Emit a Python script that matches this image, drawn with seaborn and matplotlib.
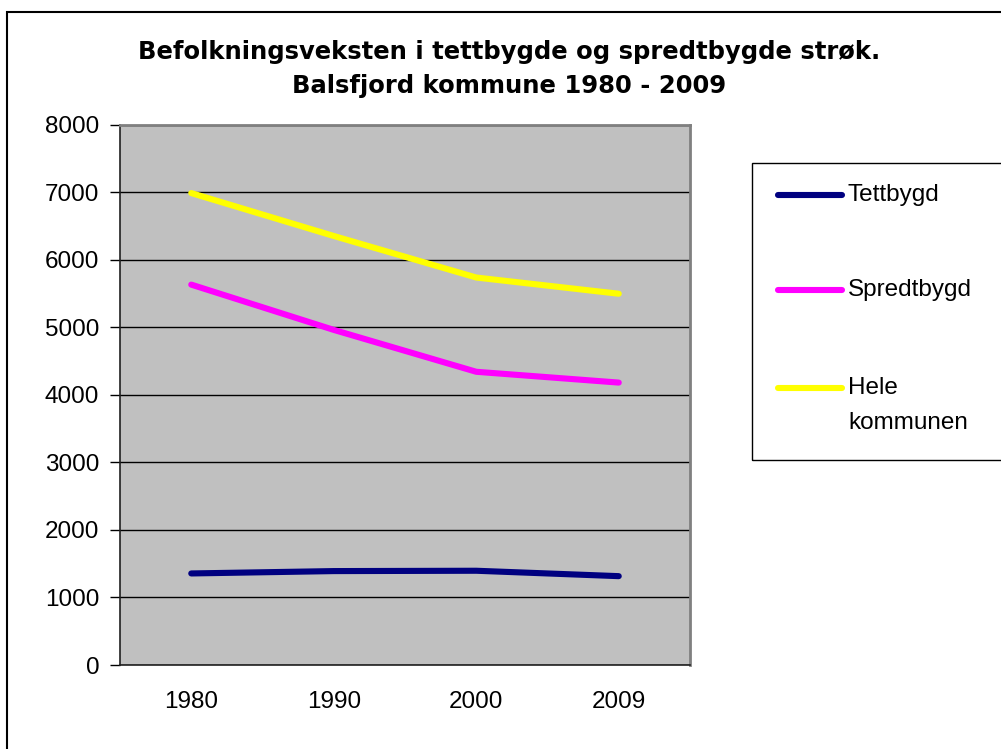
import matplotlib
matplotlib.use("Agg")
import matplotlib.pyplot as plt
from matplotlib.patches import Rectangle
from matplotlib.lines import Line2D
import seaborn as sns
import pandas as pd

years = ["1980", "1990", "2000", "2009"]
tettbygd = [1355, 1390, 1395, 1315]
spredtbygd = [5630, 4960, 4340, 4180]
hele = [6985, 6350, 5735, 5495]
series_names = ["Tettbygd", "Spredtbygd", "Hele\nkommunen"]
colors = ["#000080", "#FF00FF", "#FFFF00"]
title_lines = ["Befolkningsveksten i tettbygde og spredtbygde strøk.",
               "Balsfjord kommune 1980 - 2009"]

sns.set_theme(style="white")
plt.rcParams['font.family'] = ['Liberation Sans', 'DejaVu Sans']
plt.rcParams['text.color'] = 'black'
plt.rcParams['xtick.color'] = 'black'
plt.rcParams['ytick.color'] = 'black'

rows = []
for name, vals in zip(series_names, [tettbygd, spredtbygd, hele]):
    for i, (y, v) in enumerate(zip(years, vals)):
        rows.append({"idx": i, "year": y, "value": v, "series": name})
df = pd.DataFrame(rows)

W, H = 1001, 749
fig = plt.figure(figsize=(W / 100, H / 100), dpi=100)
fig.patch.set_facecolor("white")
ax = fig.add_axes([120 / W, 1 - 665 / H, (690 - 120) / W, (665 - 124.5) / H])
ax.set_facecolor("#C0C0C0")

LW = 4.4
sns.lineplot(data=df, x="idx", y="value", hue="series", palette=colors,
             hue_order=series_names, ax=ax, linewidth=LW, legend=False,
             sort=False)
for ln in ax.lines:
    ln.set_solid_capstyle("round")
    ln.set_solid_joinstyle("round")

FS = 17.5
ax.set_xlim(-0.5, 3.5)
ax.set_ylim(0, 8000)
ax.set_yticks(range(0, 8001, 1000))
ax.set_xticks(range(len(years)))
ax.set_xticklabels(years)
ax.set_xticks([-0.5, 0.5, 1.5, 2.5, 3.5], minor=True)
ax.tick_params(axis="x", which="major", length=0, pad=19, labelsize=FS, labelcolor="black")
ax.tick_params(axis="x", which="minor", length=7, width=1, color="black", direction="out")
ax.tick_params(axis="y", which="major", length=7, width=1, color="black", direction="out",
               labelsize=FS, pad=8, left=True, labelcolor="black")
ax.set_xlabel("")
ax.set_ylabel("")
ax.yaxis.grid(True, color="black", linewidth=1)
ax.set_axisbelow(True)
for s in ["left", "bottom"]:
    ax.spines[s].set_color("#202020")
    ax.spines[s].set_linewidth(1.2)
for s in ["top", "right"]:
    ax.spines[s].set_color("#808080")
    ax.spines[s].set_linewidth(2)

# titles
for txt, yy in zip(title_lines, [52, 86]):
    fig.text(509 / W, 1 - yy / H, txt, ha="center", va="center",
             fontsize=17.5, fontweight="bold", family=["DejaVu Sans"], color="black")

# outer frame
fig.add_artist(Rectangle((7 / W, -0.1), 1.2, 1 - 12 / H + 0.1, transform=fig.transFigure,
                         fill=False, edgecolor="black", linewidth=1.5))

# legend box
fig.add_artist(Rectangle((752 / W, 1 - 460 / H), 0.3, (460 - 163) / H,
                         transform=fig.transFigure, fill=False,
                         edgecolor="black", linewidth=1))
ys = [195, 290, 388]
for name, c, yy in zip(series_names, colors, ys):
    fig.add_artist(Line2D([778 / W, 842 / W], [1 - yy / H, 1 - yy / H],
                          transform=fig.transFigure, color=c, linewidth=LW,
                          solid_capstyle="round"))
    fig.text(848 / W, 1 - yy / H, name.split("\n")[0], ha="left", va="center",
             fontsize=FS)
fig.text(848 / W, 1 - 423 / H, "kommunen", ha="left", va="center", fontsize=FS)

fig.savefig("out.png", dpi=100)
